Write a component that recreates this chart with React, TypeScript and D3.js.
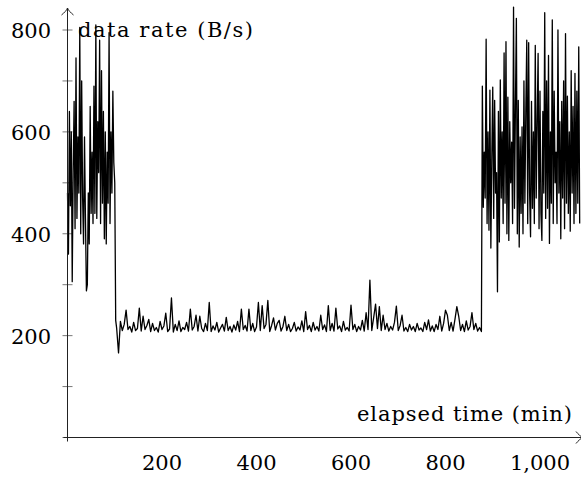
import React from "react";
import * as d3 from "d3";

// Segment 1: high-rate phase (minutes 0..102, every 2 min)
const seg1Start = 0;
const seg1Step = 2;
const seg1Values = [
  480, 360, 640, 455, 600, 306, 520, 660, 410, 745,
  430, 590, 480, 805, 400, 700, 470, 380, 590, 430,
  288, 300, 480, 380, 650, 440, 560, 420, 690, 440,
  810, 430, 620, 520, 780, 420, 720, 460, 640, 390,
  600, 380, 560, 460, 795, 420, 600, 480, 680, 540,
  500, 230,
];

// Segment 2: low-rate phase (minutes 104..876, every 4 min)
const seg2Start = 104;
const seg2Step = 4;
const seg2Values = [
  215, 166, 228, 210, 222, 250, 212, 218, 207, 226,
  210, 214, 254, 209, 238, 212, 220, 232, 208, 224,
  210, 216, 207, 228, 212, 219, 244, 208, 213, 274,
  207, 222, 210, 229, 208, 216, 212, 226, 209, 252,
  211, 218, 240, 209, 238, 214, 208, 224, 210, 265,
  208, 219, 211, 226, 207, 215, 222, 209, 236, 210,
  218, 207, 221, 211, 228, 208, 252, 212, 220, 209,
  252, 210, 224, 208, 217, 265, 210, 259, 214, 222,
  269, 208, 220, 235, 211, 224, 230, 209, 218, 238,
  210, 222, 208, 214, 226, 209, 217, 211, 229, 208,
  247, 212, 220, 208, 226, 211, 218, 209, 240, 212,
  221, 208, 259, 210, 224, 209, 254, 213, 219, 208,
  228, 211, 216, 209, 260, 212, 222, 208, 218, 211,
  230, 209, 245, 212, 309, 210, 236, 262, 214, 257,
  210, 240, 212, 224, 209, 218, 211, 226, 258, 210,
  220, 240, 209, 216, 208, 222, 211, 218, 208, 224,
  211, 215, 208, 226, 212, 231, 209, 219, 208, 222,
  212, 238, 209, 224, 250, 240, 210, 226, 209, 232,
  257, 238, 210, 222, 208, 229, 211, 218, 245, 212,
  224, 209, 216, 208,
];

// Segment 3: high-rate phase (minutes 878..1084, every 2 min)
const seg3Start = 878;
const seg3Step = 2;
const seg3Values = [
  690, 452, 560, 470, 782, 420, 600, 407, 682, 372,
  550, 688, 430, 662, 480, 520, 286, 640, 384, 702,
  470, 600, 420, 755, 460, 777, 400, 668, 387, 620,
  500, 580, 420, 845, 450, 650, 823, 400, 662, 374,
  590, 440, 610, 400, 700, 460, 640, 780, 420, 775,
  480, 394, 660, 450, 600, 420, 770, 470, 620, 754,
  410, 680, 440, 387, 640, 480, 834, 430, 700, 450,
  750, 381, 600, 460, 820, 420, 680, 500, 560, 420,
  800, 480, 620, 390, 660, 470, 700, 410, 793, 460,
  670, 440, 600, 405, 720, 480, 650, 420, 715, 440,
  680, 460, 767, 420,
];

const yTicks = [0, 100, 200, 300, 400, 500, 600, 700, 800];
const yTickLabels = [200, 400, 600, 800];
const xTickLabels = [200, 400, 600, 800, 1000];

const yLabel = "data rate (B/s)";
const xLabel = "elapsed time (min)";

type Pt = { t: number; v: number };

function toPoints(start: number, step: number, values: number[]): Pt[] {
  return values.map((v, i) => ({ t: start + i * step, v }));
}

export default function App() {
  const W = 581;
  const H = 477;
  const x = d3.scaleLinear().domain([0, 1000]).range([67.5, 540]);
  const y = d3.scaleLinear().domain([0, 800]).range([437.5, 30]);

  const data: Pt[] = [
    ...toPoints(seg1Start, seg1Step, seg1Values),
    ...toPoints(seg2Start, seg2Step, seg2Values),
    ...toPoints(seg3Start, seg3Step, seg3Values),
  ];

  const line = d3
    .line<Pt>()
    .x((d) => x(d.t))
    .y((d) => y(d.v));

  const x0 = x(0);
  const y0 = y(0);
  const textStyle: React.CSSProperties = {
    fontFamily: "'DejaVu Serif', serif",
    fontSize: 21,
  };

  const axisColor = "#222";

  return (
    <svg
      width={W}
      height={H}
      viewBox={`0 0 ${W} ${H}`}
      style={{ position: "absolute", left: 0, top: 0, display: "block", background: "#fff" }}
    >
      {yTicks.map((t) => (
        <line
          key={"yt" + t}
          x1={x0 - 5}
          x2={x0 + 5}
          y1={y(t)}
          y2={y(t)}
          stroke="#555"
          strokeWidth={0.8}
        />
      ))}
      <path d={line(data) || ""} fill="none" stroke="#000" strokeWidth={1.3} strokeLinejoin="round" />
      <line x1={x0} x2={x0} y1={y0 + 4} y2={8} stroke={axisColor} strokeWidth={1} />
      <path
        d={`M ${x0 - 6} 15 C ${x0 - 3} 12.5 ${x0 - 1} 10.5 ${x0} 8 C ${x0 + 1} 10.5 ${x0 + 3} 12.5 ${x0 + 6} 15`}
        fill="none"
        stroke={axisColor}
        strokeWidth={1}
      />
      <line x1={x0 - 4} x2={583} y1={y0} y2={y0} stroke={axisColor} strokeWidth={1} />
      <path
        d={`M 576 ${y0 - 6} C 578.5 ${y0 - 3} 580.5 ${y0 - 1} 583 ${y0} C 580.5 ${y0 + 1} 578.5 ${y0 + 3} 576 ${y0 + 6}`}
        fill="none"
        stroke={axisColor}
        strokeWidth={1}
      />
      {yTickLabels.map((t) => (
        <text key={"yl" + t} x={51} y={y(t) + 8} textAnchor="end" style={textStyle} fill="#000">
          {d3.format(",")(t)}
        </text>
      ))}
      {xTickLabels.map((t) => (
        <text key={"xl" + t} x={x(t)} y={470} textAnchor="middle" style={textStyle} fill="#000">
          {d3.format(",")(t)}
        </text>
      ))}
      <text x={78} y={37} style={textStyle} fill="#000" textLength={175} lengthAdjust="spacing">
        {yLabel}
      </text>
      <text x={357} y={421} style={textStyle} fill="#000" textLength={215} lengthAdjust="spacing">
        {xLabel}
      </text>
    </svg>
  );
}
